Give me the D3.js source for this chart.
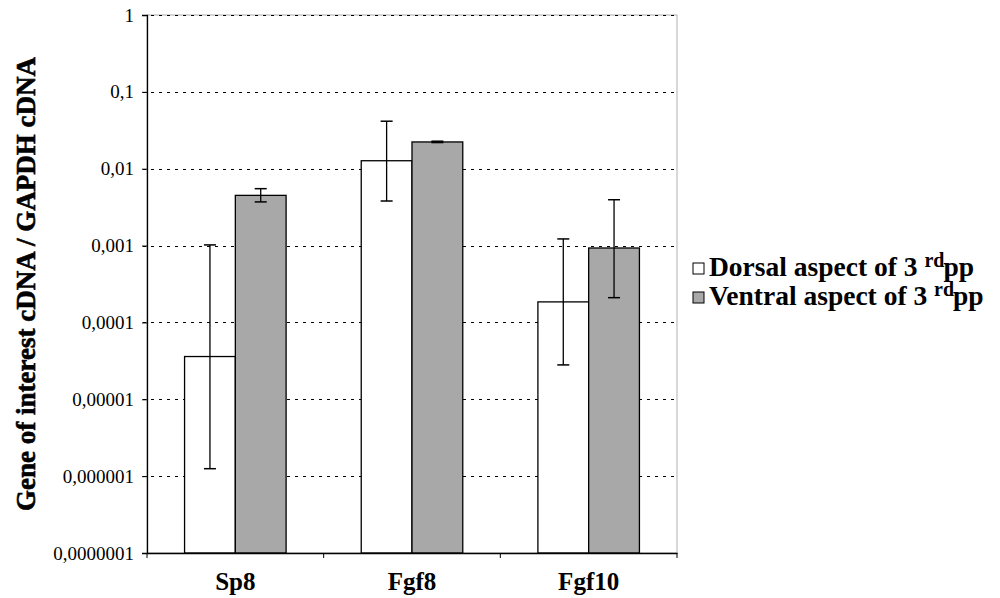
<!DOCTYPE html>
<html>
<head>
<meta charset="utf-8">
<script src="https://cdn.jsdelivr.net/npm/d3@7"></script>
<style>
  html, body { margin: 0; padding: 0; background: #fff; }
  svg { display: block; }
</style>
</head>
<body>
<svg id="chart" width="1000" height="598"></svg>
<script>
// ---- Data ----
const categories = ["Sp8", "Fgf8", "Fgf10"];
const seriesNames = ["Dorsal aspect of 3 ", "Ventral aspect of 3 "];
const dorsal = [3.6e-5, 0.0127, 1.85e-4];
const dorsalLow = [1.25e-6, 3.8e-3, 2.8e-5];
const dorsalHigh = [1.02e-3, 0.0415, 1.22e-3];
const ventral = [4.5e-3, 0.0223, 9.3e-4];
const ventralLow = [3.7e-3, 0.0219, 2.1e-4];
const ventralHigh = [5.5e-3, 0.0228, 3.95e-3];
const yTickValues = [1e-7, 1e-6, 1e-5, 1e-4, 1e-3, 1e-2, 1e-1, 1];
const yTickLabels = ["0,0000001", "0,000001", "0,00001", "0,0001", "0,001", "0,01", "0,1", "1"];
const yTitle = "Gene of interest cDNA / GAPDH cDNA";

// ---- pick an installed serif font ----
function hasFont(name) {
  const c = document.createElement("canvas").getContext("2d");
  const s = "mmmmmmmmmmlliWW 0,0001 Gene";
  const res = [];
  for (const base of ["monospace", "sans-serif"]) {
    c.font = `72px ${base}`;
    const w0 = c.measureText(s).width;
    c.font = `72px "${name}", ${base}`;
    const w1 = c.measureText(s).width;
    res.push(Math.abs(w1 - w0) > 0.5);
  }
  return res[0] && res[1];
}
const candidates = ["Liberation Serif", "Times New Roman", "Tinos", "Times", "DejaVu Serif", "Noto Serif", "FreeSerif", "Nimbus Roman", "Nimbus Roman No9 L"];
let FONT = "serif";
for (const c of candidates) { if (hasFont(c)) { FONT = `"${c}", serif`; break; } }

// ---- Layout ----
const svg = d3.select("#chart").attr("font-family", FONT);
const pL = 147, pR = 677, pT = 15, pB = 553;
const colors = ["#ffffff", "#a8a8a8"];

const y = d3.scaleLog().domain([1e-7, 1]).range([pB, pT]);
const x = d3.scaleBand().domain(categories).range([pL, pR]).paddingInner(0).paddingOuter(0);
const xs = d3.scaleBand().domain([0, 1]).range([0, x.bandwidth()]).paddingInner(0).paddingOuter(0.74);

// plot border (light gray)
svg.append("rect").attr("x", pL).attr("y", pT).attr("width", pR - pL).attr("height", pB - pT)
  .attr("fill", "none").attr("stroke", "#b0b0b0").attr("stroke-width", 1);

// gridlines
svg.append("g").selectAll("line").data(yTickValues.filter(v => v > 1e-7)).join("line")
  .attr("x1", pL - 4).attr("x2", pR)
  .attr("y1", d => Math.round(y(d)) + 0.5).attr("y2", d => Math.round(y(d)) + 0.5)
  .attr("stroke", "#000").attr("stroke-width", 1).attr("stroke-dasharray", "3,5");

// bars
const rows = categories.map((c, i) => ({
  c,
  vals: [
    { s: 0, v: dorsal[i], lo: dorsalLow[i], hi: dorsalHigh[i] },
    { s: 1, v: ventral[i], lo: ventralLow[i], hi: ventralHigh[i] }
  ]
}));

const groups = svg.append("g").selectAll("g").data(rows).join("g")
  .attr("transform", d => `translate(${x(d.c)},0)`);

groups.selectAll("rect").data(d => d.vals).join("rect")
  .attr("x", d => xs(d.s))
  .attr("y", d => y(d.v))
  .attr("width", xs.bandwidth())
  .attr("height", d => pB - y(d.v))
  .attr("fill", d => colors[d.s])
  .attr("stroke", "#000").attr("stroke-width", 1.3);

// error bars
const eb = groups.selectAll("g.err").data(d => d.vals).join("g").attr("class", "err");
const cx = d => xs(d.s) + xs.bandwidth() / 2;
eb.append("line")
  .attr("x1", cx).attr("x2", cx)
  .attr("y1", d => y(d.hi)).attr("y2", d => y(d.lo))
  .attr("stroke", "#000").attr("stroke-width", 1.3);
eb.append("line")
  .attr("x1", d => cx(d) - 6).attr("x2", d => cx(d) + 6)
  .attr("y1", d => y(d.hi)).attr("y2", d => y(d.hi))
  .attr("stroke", "#000").attr("stroke-width", 1.5);
eb.append("line")
  .attr("x1", d => cx(d) - 6).attr("x2", d => cx(d) + 6)
  .attr("y1", d => y(d.lo)).attr("y2", d => y(d.lo))
  .attr("stroke", "#000").attr("stroke-width", 1.5);

// y axis
const yAxis = svg.append("g").attr("transform", `translate(${pL},0)`)
  .call(d3.axisLeft(y).tickValues(yTickValues).tickSize(5).tickPadding(8)
    .tickFormat(d => yTickLabels[yTickValues.indexOf(d)]));
yAxis.attr("font-family", FONT).attr("font-size", 19);
yAxis.select(".domain").attr("stroke", "#000").attr("stroke-width", 1.3);
yAxis.selectAll(".tick line").attr("stroke", "#000");

// x axis
const xAxis = svg.append("g").attr("transform", `translate(0,${pB})`)
  .call(d3.axisBottom(x).tickSize(0).tickSizeOuter(0).tickPadding(0));
xAxis.attr("font-family", FONT).attr("font-size", 25).attr("font-weight", "bold");
xAxis.select(".domain").attr("stroke", "#000").attr("stroke-width", 1.3);
xAxis.selectAll("text").attr("dy", null).attr("y", 37);
const xBounds = categories.map(c => x(c)).concat([x.range()[1]]);
svg.append("g").selectAll("line").data(xBounds).join("line")
  .attr("x1", d => d).attr("x2", d => d).attr("y1", pB).attr("y2", pB + 5)
  .attr("stroke", "#000").attr("stroke-width", 1);

// y title
svg.append("text")
  .attr("transform", `translate(35,284) rotate(-90)`)
  .attr("text-anchor", "middle")
  .attr("font-size", 27).attr("font-weight", "bold")
  .attr("stroke", "#000").attr("stroke-width", 0.6)
  .text(yTitle);

// legend
const legend = svg.append("g");
const lg = legend.selectAll("g").data(seriesNames).join("g")
  .attr("transform", (d, i) => `translate(693,${276 + i * 29})`);
lg.append("rect").attr("x", 0).attr("y", -13).attr("width", 11).attr("height", 11)
  .attr("fill", (d, i) => colors[i]).attr("stroke", "#000").attr("stroke-width", 1);
const lt = lg.append("text").attr("x", 16).attr("y", 0)
  .attr("font-size", 27.5).attr("font-weight", "bold");
lt.append("tspan").text(d => d);
lt.append("tspan").attr("dy", -9).attr("font-size", 20).text("rd");
lt.append("tspan").attr("dy", 9).attr("dx", -1).text("pp");
</script>
</body>
</html>
